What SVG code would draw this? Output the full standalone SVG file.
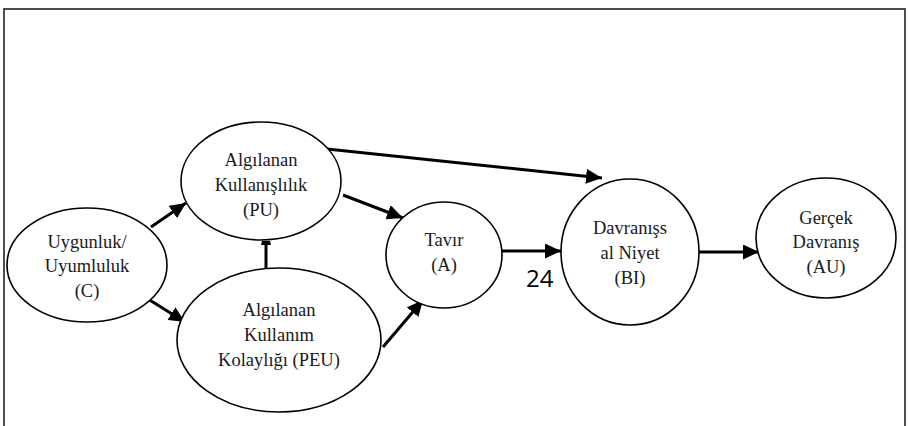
<svg xmlns="http://www.w3.org/2000/svg" width="909" height="426" viewBox="0 0 909 426">
  <style>
    .node ellipse { fill: #ffffff; stroke: #000000; stroke-width: 1.6; }
    .label { font-family: 'Liberation Serif', 'Times New Roman', 'DejaVu Serif', serif; font-size: 18.5px; fill: #1a1a1a; text-anchor: middle; }
    .edge { stroke: #000000; stroke-width: 3; fill: none; }
    .frame { fill: none; stroke: #222222; stroke-width: 1.6; }
    .num { font-family: 'Open Sans', 'DejaVu Sans', sans-serif; font-size: 24px; fill: #000000; }
  </style>
  <defs>
    <marker id="arrow" markerUnits="userSpaceOnUse" markerWidth="17" markerHeight="15" refX="16" refY="7.5" orient="auto">
      <path d="M0,0 L16,7.5 L0,15 z" fill="#000000"/>
    </marker>
    <marker id="flat" markerUnits="userSpaceOnUse" markerWidth="6" markerHeight="10" refX="4" refY="5" orient="auto">
      <path d="M0,0 L4,1 L4,9 L0,10 z" fill="#000000"/>
    </marker>
  </defs>

  <rect class="frame" x="4" y="9" width="901" height="440"/>

  <g id="connectors">
    <line class="edge" x1="151" y1="227" x2="186" y2="203" marker-end="url(#arrow)"/>
    <line class="edge" x1="148" y1="299" x2="185" y2="322" marker-end="url(#arrow)"/>
    <line class="edge" x1="266" y1="268" x2="266" y2="241" marker-end="url(#flat)"/>
    <line class="edge" x1="343" y1="195" x2="403" y2="218" marker-end="url(#arrow)"/>
    <line class="edge" x1="383" y1="347" x2="423" y2="300" marker-end="url(#arrow)"/>
    <line class="edge" x1="327" y1="149" x2="602" y2="178" marker-end="url(#arrow)"/>
    <line class="edge" x1="502" y1="251" x2="561" y2="251" marker-end="url(#arrow)"/>
    <line class="edge" x1="699" y1="252" x2="759" y2="252" marker-end="url(#arrow)"/>
  </g>

  <g id="node-c" class="node">
    <ellipse cx="87" cy="265" rx="80" ry="57"/>
    <text class="label" font-family="Liberation Serif, serif" x="87" y="248">Uygunluk/</text>
    <text class="label" font-family="Liberation Serif, serif" x="87" y="272">Uyumluluk</text>
    <text class="label" font-family="Liberation Serif, serif" x="87" y="297">(C)</text>
  </g>

  <g id="node-pu" class="node">
    <ellipse cx="261" cy="181" rx="80" ry="59"/>
    <text class="label" font-family="Liberation Serif, serif" x="261" y="166">Algılanan</text>
    <text class="label" font-family="Liberation Serif, serif" x="261" y="191">Kullanışlılık</text>
    <text class="label" font-family="Liberation Serif, serif" x="261" y="216">(PU)</text>
  </g>

  <g id="node-peu" class="node">
    <ellipse cx="279" cy="340" rx="102" ry="72"/>
    <text class="label" font-family="Liberation Serif, serif" x="279" y="316">Algılanan</text>
    <text class="label" font-family="Liberation Serif, serif" x="279" y="341">Kullanım</text>
    <text class="label" font-family="Liberation Serif, serif" x="279" y="366">Kolaylığı (PEU)</text>
  </g>

  <g id="node-a" class="node">
    <ellipse cx="444" cy="255" rx="58" ry="53"/>
    <text class="label" font-family="Liberation Serif, serif" x="444" y="246">Tavır</text>
    <text class="label" font-family="Liberation Serif, serif" x="444" y="271">(A)</text>
  </g>

  <g id="node-bi" class="node">
    <ellipse cx="630" cy="252" rx="69" ry="73"/>
    <text class="label" font-family="Liberation Serif, serif" x="630" y="234">Davranışs</text>
    <text class="label" font-family="Liberation Serif, serif" x="630" y="259">al Niyet</text>
    <text class="label" font-family="Liberation Serif, serif" x="630" y="284">(BI)</text>
  </g>

  <g id="node-au" class="node">
    <ellipse cx="826" cy="238" rx="70" ry="60"/>
    <text class="label" font-family="Liberation Serif, serif" x="826" y="224">Gerçek</text>
    <text class="label" font-family="Liberation Serif, serif" x="826" y="248">Davranış</text>
    <text class="label" font-family="Liberation Serif, serif" x="826" y="273">(AU)</text>
  </g>

  <text class="num" x="526" y="287">24</text>
</svg>
